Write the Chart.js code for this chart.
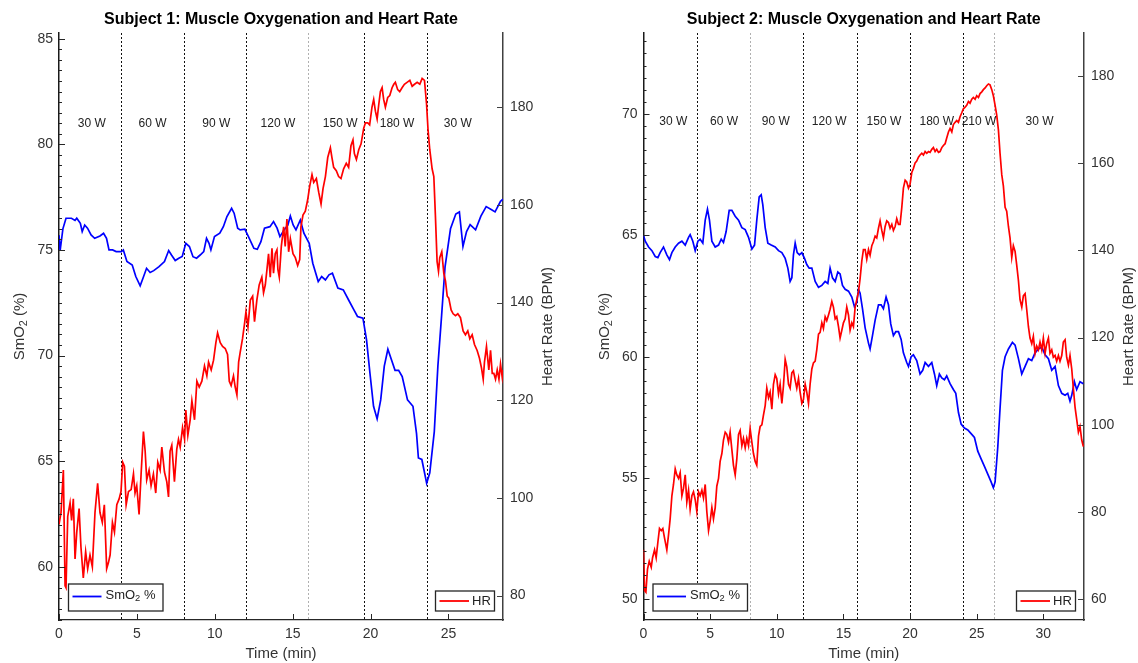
<!DOCTYPE html>
<html><head><meta charset="utf-8">
<script src="https://cdn.jsdelivr.net/npm/chart.js@4.4.0/dist/chart.umd.min.js"></script>
<style>
html,body{margin:0;padding:0;background:#fff;}
#wrap{position:relative;width:1138px;height:663px;overflow:hidden;background:#fff;}
canvas{position:absolute;top:0;}
#c1{left:0;} #c2{left:569px;}
</style></head><body>
<div id="wrap"><canvas id="c1" width="569" height="663"></canvas><canvas id="c2" width="569" height="663"></canvas></div>
<script>
// ---------------- Subject 1 ----------------
const s1Time = [0.00,0.07,0.25,0.45,0.80,1.03,1.14,1.37,1.49,1.65,1.83,2.06,2.29,2.63,2.86,3.05,3.21,3.44,3.67,4.01,4.13,4.36,4.70,4.93,5.21,5.39,5.62,5.85,6.08,6.42,6.77,7.04,7.22,7.46,7.69,7.91,8.14,8.37,8.60,8.83,9.06,9.29,9.47,9.63,9.75,9.98,10.32,10.55,10.78,11.08,11.24,11.47,11.63,11.93,12.16,12.51,12.73,12.96,13.19,13.54,13.77,14.00,14.18,14.45,14.69,14.85,15.03,15.21,15.49,15.72,16.06,16.29,16.64,16.86,17.10,17.33,17.55,17.90,18.25,18.59,18.93,19.16,19.51,19.74,19.96,20.19,20.42,20.65,20.88,21.11,21.34,21.57,21.80,22.03,22.37,22.72,22.95,23.07,23.29,23.45,23.60,23.80,24.09,24.32,24.56,24.78,25.13,25.47,25.70,25.93,26.16,26.39,26.74,27.08,27.42,27.77,27.99,28.34,28.50];
const s1SmO2 = [75.7,74.95,76.0,76.5,76.5,76.4,76.5,76.26,75.87,76.18,76.03,75.71,75.55,75.66,75.79,75.55,75.0,75.0,74.92,74.92,75.0,74.45,74.29,73.74,73.3,73.66,74.13,73.93,74.02,74.21,74.45,74.97,74.76,74.5,74.61,74.69,75.31,75.16,74.68,74.61,74.76,74.92,75.55,75.31,75.0,75.63,75.79,76.10,76.58,76.97,76.74,76.03,75.95,75.98,75.63,75.08,75.03,75.39,76.03,76.10,76.34,76.03,75.63,75.95,76.18,76.61,76.18,75.95,76.42,75.79,75.31,74.37,73.5,73.74,73.58,73.82,73.90,73.19,73.11,72.63,72.16,71.85,71.77,70.74,69.16,67.6,67.0,67.9,69.5,70.3,69.8,69.3,69.3,69.0,67.9,67.6,66.3,65.15,65.08,64.5,63.95,64.45,66.4,69.5,71.9,74.2,76.0,76.7,76.8,75.16,75.87,76.2,75.95,76.6,77.05,76.9,76.8,77.3,77.4];
const s1HRTime = [0.00,0.13,0.28,0.39,0.45,0.56,0.71,0.81,0.92,1.03,1.14,1.29,1.41,1.56,1.71,1.84,1.99,2.14,2.31,2.48,2.63,2.78,2.91,3.06,3.17,3.28,3.43,3.56,3.71,3.86,3.98,4.09,4.20,4.31,4.46,4.63,4.78,4.88,4.99,5.14,5.27,5.42,5.53,5.63,5.78,5.91,6.06,6.21,6.34,6.49,6.60,6.77,6.92,7.03,7.13,7.24,7.41,7.56,7.67,7.78,7.93,8.06,8.14,8.27,8.42,8.53,8.70,8.85,9.00,9.17,9.34,9.49,9.60,9.77,9.92,10.07,10.18,10.35,10.50,10.67,10.82,10.93,11.05,11.20,11.31,11.42,11.53,11.63,11.78,11.91,12.00,12.13,12.28,12.43,12.55,12.70,12.85,13.02,13.13,13.24,13.35,13.45,13.56,13.67,13.77,13.88,13.99,14.05,14.14,14.27,14.42,14.52,14.63,14.74,14.85,15.02,15.17,15.32,15.45,15.53,15.66,15.81,15.96,16.09,16.24,16.35,16.52,16.67,16.82,16.95,17.10,17.25,17.42,17.52,17.63,17.80,17.95,18.10,18.27,18.44,18.59,18.74,18.87,18.96,19.09,19.24,19.39,19.56,19.67,19.82,19.94,20.09,20.20,20.31,20.42,20.52,20.63,20.74,20.84,20.95,21.10,21.23,21.38,21.49,21.59,21.74,21.87,22.02,22.17,22.34,22.52,22.67,22.82,22.99,23.16,23.31,23.46,23.59,23.69,23.80,23.95,24.06,24.16,24.27,24.36,24.44,24.57,24.70,24.81,24.92,25.02,25.17,25.30,25.45,25.60,25.77,25.94,26.09,26.24,26.37,26.52,26.67,26.84,26.99,27.12,27.23,27.31,27.44,27.59,27.70,27.81,27.91,28.02,28.13,28.24,28.34,28.45,28.50];
const s1HR = [94.6,97.0,105.7,82.0,81.6,96.2,99.0,95.4,99.8,87.5,93.0,97.8,89.9,83.6,89.0,85.5,88.3,85.9,97.0,103.0,97.0,95.0,98.6,85.5,86.7,88.3,95.0,93.0,98.6,99.8,101.3,107.3,106.5,98.6,101.3,101.7,104.9,101.0,102.5,96.6,104.9,113.6,109.6,103.7,105.7,102.5,104.9,101.0,107.3,105.7,110.4,105.3,103.3,100.2,109.6,110.8,103.3,110.0,112.0,110.4,114.4,112.0,118.0,112.8,116.0,119.9,116.0,123.9,122.7,123.9,127.0,125.0,127.8,126.2,128.2,131.8,133.8,131.8,131.0,130.6,129.4,123.9,123.0,125.0,122.7,121.1,127.8,129.8,132.6,135.7,138.1,135.0,140.5,141.3,136.1,140.5,143.6,145.2,142.0,143.6,146.8,150.0,145.2,151.1,146.0,150.0,150.8,146.8,145.2,151.5,155.5,151.5,157.1,150.4,153.1,150.0,149.2,147.6,148.8,155.5,157.9,158.7,161.0,163.8,166.2,164.6,165.4,162.6,160.2,163.4,165.8,169.7,171.7,169.7,167.7,167.0,165.8,165.4,167.4,168.5,167.7,172.1,173.3,170.5,169.3,171.3,172.5,175.7,176.8,176.8,176.4,180.0,181.6,179.2,177.6,180.4,183.2,184.0,181.6,180.0,182.0,182.4,184.0,184.7,185.1,183.6,183.2,184.0,184.7,185.1,185.5,184.3,184.7,185.1,184.7,185.9,185.5,180.8,175.3,171.3,167.4,165.8,157.9,148.4,146.4,149.2,150.4,146.0,144.4,141.3,140.9,138.5,137.7,137.3,137.7,136.9,134.2,133.4,134.2,132.6,133.4,131.4,130.2,128.6,126.6,124.3,127.8,131.0,126.2,130.2,125.5,125.5,124.3,126.2,124.3,127.4,124.7,126.2];
const s1XTicks = [0,5,10,15,20,25];
const s1SmO2Ticks = [60,65,70,75,80,85];
const s1HRTicks = [80,100,120,140,160,180];
const s1StageLines = [4,8,12,16,19.6,23.6];
const s1StageNames = ['30 W','60 W','90 W','120 W','150 W','180 W','30 W'];
const s1StageNameX = [2.1,6.0,10.1,14.05,18.05,21.7,25.6];

// ---------------- Subject 2 ----------------
const s2Time = [0.00,0.13,0.38,0.63,0.88,1.08,1.25,1.50,1.75,1.95,2.13,2.38,2.63,2.88,3.13,3.38,3.50,3.70,3.88,4.08,4.25,4.45,4.63,4.80,4.95,5.13,5.38,5.63,5.83,6.00,6.20,6.43,6.63,6.88,7.13,7.38,7.63,7.88,8.13,8.33,8.50,8.68,8.83,8.95,9.13,9.33,9.58,9.88,10.13,10.38,10.63,10.83,11.00,11.13,11.25,11.38,11.53,11.70,11.88,12.08,12.25,12.43,12.63,12.88,13.13,13.38,13.63,13.83,14.00,14.18,14.38,14.58,14.75,14.93,15.13,15.38,15.63,15.83,16.00,16.13,16.25,16.43,16.63,16.88,17.00,17.18,17.38,17.63,17.83,18.00,18.20,18.38,18.55,18.75,18.93,19.13,19.33,19.50,19.75,19.88,20.08,20.25,20.50,20.75,20.95,21.13,21.38,21.63,21.83,22.00,22.20,22.38,22.58,22.75,23.00,23.25,23.43,23.63,23.83,24.08,24.33,24.58,24.83,25.08,25.33,25.58,25.83,26.08,26.25,26.38,26.58,26.75,26.93,27.13,27.38,27.68,27.88,28.13,28.38,28.63,28.88,29.13,29.38,29.63,29.88,30.13,30.38,30.63,30.88,31.13,31.38,31.63,31.83,32.00,32.13,32.33,32.50,32.75,33.00];
const s2SmO2 = [65.0,64.76,64.52,64.37,64.13,64.08,64.29,64.52,64.2,64.0,64.29,64.52,64.68,64.76,64.6,64.92,65.03,64.76,64.37,64.76,64.84,64.68,65.63,66.08,65.63,64.76,64.52,64.6,64.84,64.71,65.16,66.03,66.03,65.79,65.63,65.32,65.24,64.92,64.44,64.6,65.63,66.59,66.67,66.27,65.32,64.68,64.6,64.52,64.37,64.29,64.05,63.65,63.1,63.25,64.2,64.68,64.29,64.2,64.29,64.05,63.8,63.65,63.65,63.1,62.86,62.94,63.1,63.02,63.65,63.25,63.1,63.49,63.41,62.94,62.78,62.7,62.46,62.06,62.22,62.78,62.62,61.98,61.19,60.56,60.32,60.87,61.51,62.14,62.14,61.98,62.46,62.14,61.35,60.87,61.03,61.03,60.71,60.16,59.76,59.6,60.0,60.08,59.84,59.29,59.44,59.76,59.6,59.76,59.29,58.81,59.29,59.13,59.05,59.21,58.89,58.65,58.49,57.7,57.22,57.06,56.98,56.83,56.67,56.11,55.79,55.48,55.16,54.84,54.6,54.84,56.27,57.86,59.44,60.0,60.32,60.59,60.48,59.92,59.29,59.6,59.92,59.84,60.16,60.32,60.4,60.08,59.92,59.44,59.6,58.81,58.49,58.41,58.49,58.17,58.41,58.97,58.65,58.97,58.89];
const s2HRTime = [0.00,0.08,0.18,0.30,0.43,0.58,0.68,0.83,0.95,1.08,1.20,1.33,1.45,1.58,1.75,1.88,2.00,2.13,2.25,2.38,2.50,2.63,2.75,2.88,3.00,3.13,3.25,3.38,3.50,3.63,3.75,3.88,4.00,4.13,4.25,4.38,4.50,4.63,4.75,4.88,5.00,5.13,5.25,5.38,5.50,5.63,5.75,5.88,6.00,6.13,6.25,6.38,6.50,6.63,6.75,6.88,7.00,7.13,7.25,7.38,7.50,7.63,7.75,7.88,8.00,8.13,8.25,8.38,8.50,8.63,8.75,8.88,9.00,9.13,9.25,9.38,9.50,9.63,9.75,9.88,10.00,10.13,10.25,10.38,10.50,10.63,10.75,10.88,11.00,11.13,11.25,11.38,11.50,11.63,11.75,11.88,12.00,12.13,12.25,12.38,12.50,12.63,12.75,12.88,13.00,13.13,13.25,13.38,13.50,13.63,13.75,13.88,14.00,14.13,14.25,14.38,14.50,14.63,14.75,14.88,15.00,15.13,15.25,15.38,15.50,15.63,15.75,15.88,16.00,16.13,16.25,16.38,16.50,16.63,16.75,16.88,17.00,17.13,17.25,17.38,17.50,17.63,17.75,17.88,18.00,18.13,18.25,18.38,18.50,18.63,18.75,18.88,19.00,19.13,19.25,19.38,19.50,19.63,19.75,19.88,20.00,20.13,20.25,20.38,20.50,20.63,20.75,20.88,21.00,21.13,21.25,21.38,21.50,21.63,21.75,21.88,22.00,22.13,22.25,22.38,22.50,22.63,22.75,22.88,23.00,23.13,23.25,23.38,23.50,23.63,23.75,23.88,24.00,24.13,24.25,24.38,24.50,24.63,24.75,24.88,25.00,25.13,25.25,25.38,25.50,25.63,25.75,25.88,26.00,26.13,26.25,26.38,26.50,26.63,26.75,26.88,27.00,27.13,27.25,27.38,27.50,27.63,27.75,27.88,28.00,28.13,28.25,28.38,28.50,28.63,28.75,28.88,29.00,29.13,29.25,29.38,29.50,29.63,29.75,29.88,30.00,30.13,30.25,30.38,30.50,30.63,30.75,30.88,31.00,31.13,31.25,31.38,31.50,31.63,31.75,31.88,32.00,32.13,32.25,32.38,32.50,32.63,32.75,32.88,33.00];
const s2HR = [71.3,62.0,61.6,66.9,68.7,67.3,69.5,71.3,69.5,73.1,76.2,75.7,76.2,74.0,71.3,74.8,78.4,83.7,86.3,89.9,88.5,87.7,89.0,83.7,85.4,88.5,82.3,85.0,80.6,83.7,84.6,82.8,80.1,84.6,83.7,85.0,83.2,86.3,80.1,75.7,77.9,81.0,78.4,81.0,85.9,87.7,91.6,93.4,96.5,98.3,97.8,96.0,98.3,94.3,90.7,88.5,92.1,97.8,98.7,95.2,96.9,94.7,96.9,95.2,99.1,96.0,93.4,91.6,90.7,97.4,99.6,100.0,102.2,104.4,108.4,106.2,107.5,103.6,109.3,111.5,110.6,107.1,109.3,104.9,108.9,115.0,113.3,109.3,108.4,111.9,112.4,110.2,108.4,110.6,107.5,104.9,105.8,109.3,107.5,104.9,109.3,112.8,114.2,114.6,117.2,120.8,121.2,123.4,122.1,124.8,123.9,125.2,126.5,128.3,127.0,124.3,124.8,122.5,119.9,121.7,123.4,124.3,127.0,125.2,121.7,123.4,122.5,127.0,128.7,130.5,133.5,137.6,140.2,140.2,138.0,140.2,138.9,141.1,142.0,143.3,142.9,145.1,146.8,144.6,142.9,145.5,146.8,146.4,145.1,146.0,144.6,145.5,147.3,146.0,146.0,149.9,154.3,156.1,155.7,154.3,155.2,157.9,158.8,160.1,160.5,161.4,161.9,162.3,161.9,162.7,162.3,162.7,162.5,163.2,163.6,162.7,163.2,162.5,162.7,163.6,164.1,164.5,165.8,167.2,168.0,167.2,168.9,169.4,169.8,169.4,170.7,171.6,172.5,172.9,173.3,174.2,173.8,174.7,175.1,174.7,175.5,175.1,176.0,176.4,176.9,177.3,177.8,178.2,178.0,176.9,175.5,173.3,171.1,167.6,162.3,157.4,154.8,149.9,149.0,145.5,142.9,138.4,141.1,139.8,136.7,133.1,128.7,127.0,129.6,130.1,126.5,122.5,119.9,118.6,120.3,116.4,118.1,117.2,119.0,117.2,119.9,116.4,118.6,119.9,116.4,117.2,115.5,115.9,114.6,115.9,114.6,115.9,119.0,119.5,115.5,113.7,115.9,112.8,108.4,104.0,101.3,98.3,99.6,96.5,95.0];
const s2XTicks = [0,5,10,15,20,25,30];
const s2SmO2Ticks = [50,55,60,65,70];
const s2HRTicks = [60,80,100,120,140,160,180];
const s2StageLines = [4,8,12,16,20,24,26.3];
const s2StageNames = ['30 W','60 W','90 W','120 W','150 W','180 W','210 W','30 W'];
const s2StageNameX = [2.24,6.04,9.93,13.93,18.04,22.01,25.17,29.71];

const FONT = '"Liberation Sans", Arial, Helvetica, sans-serif';
Chart.defaults.font.family = FONT;

function richText(ctx, parts, x, y, size, rot) {
  // parts: [text, isSub]
  ctx.save();
  ctx.translate(x, y);
  if (rot) ctx.rotate(rot);
  ctx.textBaseline = 'middle';
  ctx.textAlign = 'left';
  let w = 0;
  const widths = parts.map(p => { ctx.font = (p[1] ? size * 0.72 : size) + 'px ' + FONT; const m = ctx.measureText(p[0]).width; w += m; return m; });
  let cx = x === null ? 0 : -w / 2;
  parts.forEach((p, i) => {
    ctx.font = (p[1] ? size * 0.72 : size) + 'px ' + FONT;
    ctx.fillText(p[0], cx, p[1] ? size * 0.3 : 0);
    cx += widths[i];
  });
  ctx.restore();
}
function richLeft(ctx, parts, x, y, size) {
  ctx.save();
  ctx.textBaseline = 'middle'; ctx.textAlign = 'left';
  let cx = x;
  parts.forEach(p => {
    ctx.font = (p[1] ? size * 0.72 : size) + 'px ' + FONT;
    ctx.fillText(p[0], cx, y + (p[1] ? size * 0.3 : 0));
    cx += ctx.measureText(p[0]).width;
  });
  ctx.restore();
}

function makeDecor(cfg) {
  return {
    id: 'decor',
    beforeDatasetsDraw(chart) {
      const {ctx, chartArea: a, scales: {x}} = chart;
      ctx.save();
      ctx.beginPath(); ctx.rect(a.left, a.top, a.right - a.left, a.bottom - a.top); ctx.clip();
      ctx.lineWidth = 1;
      ctx.setLineDash([2, 2]);
      cfg.lines.forEach((t, i) => {
        const px = Math.round(x.getPixelForValue(t)) + 0.5;
        ctx.strokeStyle = cfg.lightLines.includes(i) ? '#b0b0b0' : '#111';
        ctx.beginPath(); ctx.moveTo(px, a.top); ctx.lineTo(px, a.bottom); ctx.stroke();
      });
      ctx.restore();
    },
    afterDatasetsDraw(chart) {
      const {ctx, chartArea: a, scales: {x, yL, yR}} = chart;
      ctx.save();
      // stage labels
      ctx.fillStyle = '#222';
      ctx.font = '12px ' + FONT;
      ctx.textAlign = 'center'; ctx.textBaseline = 'middle';
      cfg.names.forEach((n, i) => ctx.fillText(n, x.getPixelForValue(cfg.namesX[i]), yL.getPixelForValue(cfg.namesY)));
      // inward ticks
      ctx.lineWidth = 1; ctx.strokeStyle = '#262626';
      ctx.beginPath();
      x.ticks.forEach(t => { const p = Math.round(x.getPixelForValue(t.value)) + 0.5; ctx.moveTo(p, a.bottom); ctx.lineTo(p, a.bottom - 6); });
      yL.ticks.forEach(t => { const p = Math.round(yL.getPixelForValue(t.value)) + 0.5; ctx.moveTo(a.left, p); ctx.lineTo(a.left + 6, p); });
      for (let v = Math.ceil(yL.min * 2) / 2; v <= yL.max; v += 0.5) {
        const p = Math.round(yL.getPixelForValue(v)) + 0.5; ctx.moveTo(a.left, p); ctx.lineTo(a.left + 3, p);
      }
      ctx.stroke();
      ctx.strokeStyle = '#404040';
      ctx.beginPath();
      yR.ticks.forEach(t => { const p = Math.round(yR.getPixelForValue(t.value)) + 0.5; ctx.moveTo(a.right, p); ctx.lineTo(a.right - 6, p); });
      ctx.stroke();
      // legends
      const dsS = chart.data.datasets[1], dsH = chart.data.datasets[0];
      const bS = {x: a.left + 9.5, y: a.bottom - 36, w: 94.5, h: 27};
      const bH = {x: a.right - 8.5 - 59, y: a.bottom - 29, w: 59, h: 20};
      ctx.lineWidth = 1.3; ctx.strokeStyle = '#262626'; ctx.fillStyle = '#fff';
      [bS, bH].forEach(b => { ctx.fillRect(b.x, b.y, b.w, b.h); ctx.strokeRect(b.x, b.y, b.w, b.h); });
      ctx.lineWidth = 1.8;
      ctx.strokeStyle = dsS.borderColor;
      ctx.beginPath(); ctx.moveTo(bS.x + 4, bS.y + 12.5); ctx.lineTo(bS.x + 33, bS.y + 12.5); ctx.stroke();
      ctx.strokeStyle = dsH.borderColor;
      ctx.beginPath(); ctx.moveTo(bH.x + 4, bH.y + 10); ctx.lineTo(bH.x + 33.5, bH.y + 10); ctx.stroke();
      ctx.fillStyle = '#222';
      const sParts = dsS.label.split('₂');
      richLeft(ctx, [[sParts[0], false], ['2', true], [sParts[1], false]], bS.x + 37, bS.y + 11, 13);
      richLeft(ctx, [[dsH.label, false]], bH.x + 36.5, bH.y + 10, 13);
      // chart title
      ctx.fillStyle = '#000';
      ctx.font = 'bold 16px ' + FONT;
      ctx.textAlign = 'center'; ctx.textBaseline = 'middle';
      ctx.fillText(cfg.title, (a.left + a.right) / 2, 20);
      // y axis titles
      ctx.fillStyle = '#333';
      const cy = (a.top + a.bottom) / 2;
      richText(ctx, [['SmO', false], ['2', true], [' (%)', false]], a.left - 39, cy, 15, -Math.PI / 2);
      richText(ctx, [['Heart Rate (BPM)', false]], a.right + 44.5, cy, 15, -Math.PI / 2);
      ctx.restore();
    }
  };
}

function makeChart(id, cfg) {
  const pts = (ts, vs) => ts.map((t, i) => ({x: t, y: vs[i]}));
  const tickFont = {size: 14};
  return new Chart(document.getElementById(id), {
    type: 'line',
    data: {datasets: [
      {label: 'HR', data: pts(cfg.hrT, cfg.hrV), yAxisID: 'yR', borderColor: '#ff0000', borderWidth: 1.7, pointRadius: 0, tension: 0, fill: false, order: 0},
      {label: 'SmO₂ %', data: pts(cfg.sT, cfg.sV), yAxisID: 'yL', borderColor: '#0000ff', borderWidth: 1.7, pointRadius: 0, tension: 0, fill: false, order: 1}
    ]},
    options: {
      responsive: false, animation: false, devicePixelRatio: 1, events: [],
      layout: {padding: {top: 33, left: 0, right: 0, bottom: 0}, autoPadding: false},
      plugins: {legend: {display: false}, tooltip: {enabled: false}, title: {display: false}},
      scales: {
        x: {type: 'linear', position: 'bottom', min: 0, max: cfg.xMax,
          afterBuildTicks: s => { s.ticks = cfg.xTicks.map(v => ({value: v})); },
          afterFit: s => { s.height = 43; },
          grid: {display: false, drawTicks: false},
          border: {display: true, color: '#262626', width: 1.3},
          ticks: {autoSkip: false, maxRotation: 0, padding: 6, color: '#333', font: tickFont, callback: v => String(v)},
          title: {display: true, text: 'Time (min)', color: '#333', font: {size: 15}, padding: 0}},
        yL: {type: 'linear', position: 'left', min: cfg.yLMin, max: cfg.yLMax,
          afterBuildTicks: s => { s.ticks = cfg.yLTicks.map(v => ({value: v})); },
          afterFit: s => { s.width = cfg.leftW; },
          grid: {display: false, drawTicks: false},
          border: {display: true, color: '#1a1a1a', width: 1.5},
          ticks: {padding: 6, color: '#333', font: tickFont, callback: v => String(v)}},
        yR: {type: 'linear', position: 'right', min: cfg.yRMin, max: cfg.yRMax,
          afterBuildTicks: s => { s.ticks = cfg.yRTicks.map(v => ({value: v})); },
          afterFit: s => { s.width = cfg.rightW; },
          grid: {display: false, drawTicks: false},
          border: {display: true, color: '#404040', width: 1.5},
          ticks: {padding: 7, color: '#333', font: tickFont, callback: v => String(v)}}
      }
    },
    plugins: [makeDecor(cfg)]
  });
}

makeChart('c1', {
  sT: s1Time, sV: s1SmO2, hrT: s1HRTime, hrV: s1HR,
  xMax: 28.5, yLMin: 57.48, yLMax: 85.27, yRMin: 75.0, yRMax: 195.2,
  xTicks: s1XTicks, yLTicks: s1SmO2Ticks, yRTicks: s1HRTicks,
  leftW: 59, rightW: 66,
  lines: s1StageLines, lightLines: [3], names: s1StageNames, namesX: s1StageNameX, namesY: 81.0,
  title: 'Subject 1: Muscle Oxygenation and Heart Rate'
});
makeChart('c2', {
  sT: s2Time, sV: s2SmO2, hrT: s2HRTime, hrV: s2HR,
  xMax: 33.05, yLMin: 49.15, yLMax: 73.34, yRMin: 55.2, yRMax: 189.9,
  xTicks: s2XTicks, yLTicks: s2SmO2Ticks, yRTicks: s2HRTicks,
  leftW: 74.5, rightW: 54,
  lines: s2StageLines, lightLines: [1, 6], names: s2StageNames, namesX: s2StageNameX, namesY: 69.7,
  title: 'Subject 2: Muscle Oxygenation and Heart Rate'
});
</script></body></html>
